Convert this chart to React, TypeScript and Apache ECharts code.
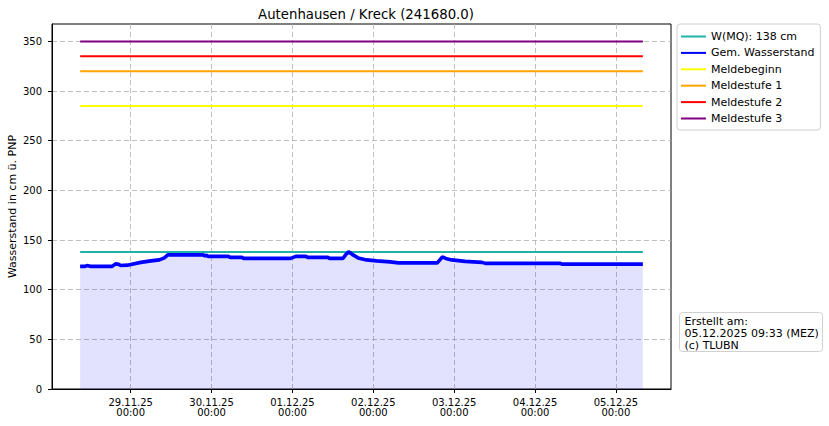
import React, { useEffect, useRef } from "react";
import * as echarts from "echarts";

const chartTitle = "Autenhausen / Kreck (241680.0)";
const yAxisName = "Wasserstand in cm ü. PNP";

// Measured water level (Gem. Wasserstand): time "dd.mm HH:MM" (2025) and value in cm
const levelTimes = [
  "28.11 09:00", "28.11 10:30", "28.11 11:00", "28.11 12:00", "28.11 18:30", "28.11 19:30",
  "28.11 20:30", "28.11 21:00", "28.11 23:00", "29.11 03:00", "29.11 06:00", "29.11 08:30",
  "29.11 10:00", "29.11 11:00", "29.11 21:30", "29.11 22:00", "29.11 22:30", "29.11 23:00",
  "30.11 05:00", "30.11 05:30", "30.11 09:00", "30.11 09:30", "30.11 23:30", "01.12 01:00",
  "01.12 04:00", "01.12 04:30", "01.12 10:30", "01.12 11:00", "01.12 15:00", "01.12 16:00",
  "01.12 16:40", "01.12 18:00", "01.12 19:30", "01.12 22:00", "02.12 01:00", "02.12 05:00",
  "02.12 07:30", "02.12 19:00", "02.12 20:00", "02.12 20:30", "02.12 21:30", "02.12 23:15",
  "03.12 03:15", "03.12 08:15", "03.12 09:15", "04.12 07:30", "04.12 08:00", "05.12 08:00",
];
const levelValues = [
  123.5, 123.5, 124.3, 123.5, 123.5, 126,
  125.5, 124.3, 124.7, 127.5, 129, 130,
  132, 135, 135, 134, 134.6, 133.5,
  133.5, 132.5, 132.5, 131.5, 131.5, 133.5,
  133.5, 132.5, 132.5, 131.5, 131.5, 136,
  138.2, 135, 132, 130, 129, 128,
  127, 127, 131, 133, 131.5, 130,
  128.5, 127.5, 126.5, 126.5, 125.7, 125.7,
];

// Reference levels (drawn over the data period)
const thresholdNames = ["W(MQ): 138 cm", "Meldebeginn", "Meldestufe 1", "Meldestufe 2", "Meldestufe 3"];
const thresholdValues = [138, 285, 320, 335, 350];
const thresholdColors = ["#20b2aa", "#ffff00", "#ffa500", "#ff0000", "#800080"];

const levelName = "Gem. Wasserstand";
const tickDays = ["29.11", "30.11", "01.12", "02.12", "03.12", "04.12", "05.12"];
const yTicks = [0, 50, 100, 150, 200, 250, 300, 350];
const noteLines = ["Erstellt am:", "05.12.2025 09:33 (MEZ)", "(c) TLUBN"];

const FONT = "DejaVu Sans";

function parseTime(s: string): number {
  const [dm, hm] = s.split(" ");
  const [d, m] = dm.split(".").map(Number);
  const [h, mi] = (hm || "00:00").split(":").map(Number);
  return new Date(2025, m - 1, d, h, mi).getTime();
}

function pad(n: number) {
  return n < 10 ? "0" + n : "" + n;
}

export default function App() {
  const ref = useRef<HTMLDivElement>(null);

  useEffect(() => {
    if (!ref.current) return;
    const chart = echarts.init(ref.current, undefined, { renderer: "svg" });

    const levelData = levelTimes.map((t, i) => [parseTime(t), levelValues[i]]);
    const tStart = levelData[0][0];
    const tEnd = levelData[levelData.length - 1][0];
    const span = tEnd - tStart;
    const xMin = tStart - 0.05 * span;
    const xMax = tEnd + 0.05 * span;
    const tickValues = tickDays.map((d) => parseTime(d + " 00:00"));

    const thresholdSeries = thresholdNames.map((name, i) => ({
      name,
      type: "line",
      data: [
        [tStart, thresholdValues[i]],
        [tEnd, thresholdValues[i]],
      ],
      symbol: "none",
      lineStyle: { color: thresholdColors[i], width: 2 },
      itemStyle: { color: thresholdColors[i] },
      z: 3,
    }));

    const option: any = {
      animation: false,
      backgroundColor: "#ffffff",
      textStyle: { fontFamily: FONT },
      title: {
        text: chartTitle,
        left: 361,
        top: 3,
        textAlign: "center",
        textStyle: { fontFamily: FONT, fontSize: 13.3, fontWeight: "normal", color: "#000" },
      },
      grid: {
        left: 52,
        right: 158,
        top: 24,
        bottom: 37,
        outerBoundsMode: "none",
        containLabel: false,
        show: true,
        borderColor: "#000",
        borderWidth: 1,
        backgroundColor: "transparent",
      },
      legend: {
        orient: "vertical",
        left: 677,
        top: 24,
        itemWidth: 25,
        itemHeight: 12,
        itemGap: 5.4,
        padding: [7, 6, 6, 3],
        borderColor: "#d0d0d0",
        borderWidth: 1,
        borderRadius: 3,
        backgroundColor: "#fff",
        data: [thresholdNames[0], levelName, ...thresholdNames.slice(1)],
        itemStyle: { color: "rgba(0,0,0,0)", borderWidth: 0 },
        textStyle: { fontFamily: FONT, fontSize: 11, color: "#000" },
      },
      xAxis: {
        type: "value",
        min: xMin,
        max: xMax,
        axisLine: { show: true, lineStyle: { color: "#000", width: 1 } },
        axisTick: {
          show: true,
          customValues: tickValues,
          length: 4,
          lineStyle: { color: "#000" },
        },
        axisLabel: {
          customValues: tickValues,
          fontFamily: FONT,
          fontSize: 10,
          color: "#000",
          lineHeight: 10.5,
          margin: 8,
          formatter: (v: number) => {
            const d = new Date(v);
            return (
              pad(d.getDate()) + "." + pad(d.getMonth() + 1) + "." + pad(d.getFullYear() % 100) +
              "\n" + pad(d.getHours()) + ":" + pad(d.getMinutes())
            );
          },
        },
        splitLine: {
          show: true,
          lineStyle: { color: "#b0b0b0", width: 0.8, type: [5, 3] },
        },
      },
      yAxis: {
        type: "value",
        min: 0,
        max: 367.5,
        name: yAxisName,
        nameLocation: "middle",
        nameGap: 34,
        nameMoveOverlap: false,
        nameTextStyle: { fontFamily: FONT, fontSize: 11, color: "#000" },
        axisLine: { show: true, lineStyle: { color: "#000", width: 1 } },
        axisTick: { show: true, length: 4, lineStyle: { color: "#000" }, customValues: yTicks },
        axisLabel: {
          customValues: yTicks,
          fontFamily: FONT,
          fontSize: 10,
          color: "#000",
          margin: 10,
        },
        splitLine: {
          show: true,
          lineStyle: { color: "#b0b0b0", width: 0.8, type: [5, 3] },
        },
      },
      series: [
        thresholdSeries[0],
        {
          name: levelName,
          type: "line",
          data: levelData,
          symbol: "none",
          lineStyle: { color: "#0000ff", width: 3.6 },
          itemStyle: { color: "#0000ff" },
          areaStyle: { color: "rgba(0,0,255,0.16)", origin: "start" },
          z: 4,
        },
        ...thresholdSeries.slice(1),
      ],
      graphic: [
        {
          type: "group",
          left: 679,
          top: 312,
          children: [
            {
              type: "rect",
              shape: { x: 0, y: 0, width: 143, height: 39, r: 3 },
              style: { fill: "#fff", stroke: "#d0d0d0", lineWidth: 1 },
            },
            {
              type: "text",
              x: 5,
              y: 2.5,
              style: {
                text: noteLines.join("\n"),
                fontFamily: FONT,
                fontSize: 11,
                lineHeight: 12.3,
                fill: "#000",
              },
            },
          ],
        },
      ],
    };

    chart.setOption(option);
    return () => chart.dispose();
  }, []);

  return <div ref={ref} style={{ width: 829, height: 426, position: "absolute", left: 0, top: 0 }} />;
}
